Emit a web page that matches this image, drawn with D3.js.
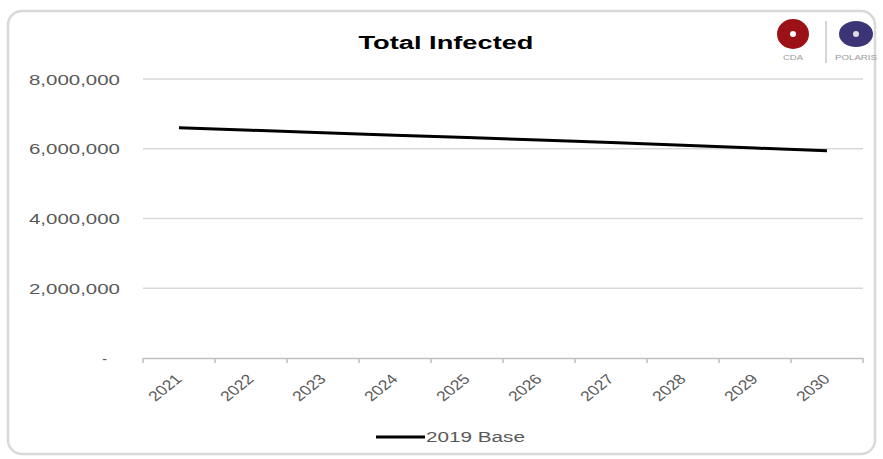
<!DOCTYPE html>
<html>
<head>
<meta charset="utf-8">
<script src="https://cdn.jsdelivr.net/npm/d3@7"></script>
<style>
  html, body { margin: 0; padding: 0; background: #fff; }
  svg { display: block; font-family: Arial, "Liberation Sans", sans-serif; }
</style>
</head>
<body>
<svg id="chart" width="883" height="459"></svg>
<script>
// Total infected, 2019 base projection
const years = ["2021", "2022", "2023", "2024", "2025", "2026", "2027", "2028", "2029", "2030"];
const baseValues = [6600000, 6530000, 6460000, 6390000, 6320000, 6250000, 6180000, 6100000, 6020000, 5940000];
const yTicks = [0, 2000000, 4000000, 6000000, 8000000];
const seriesName = "2019 Base";
const chartTitle = "Total Infected";

const svg = d3.select("#chart");
const W = 883, H = 459;

// Chart frame
svg.append("rect")
  .attr("x", 8).attr("y", 11)
  .attr("width", W - 16).attr("height", H - 16)
  .attr("rx", 14)
  .attr("fill", "#fff")
  .attr("stroke", "#d9d9d9")
  .attr("stroke-width", 2.5);

const plot = { left: 143, right: 863, top: 79, bottom: 358 };

const x = d3.scaleBand().domain(years).range([plot.left, plot.right]);
const y = d3.scaleLinear().domain([0, 8000000]).range([plot.bottom, plot.top]);

// Horizontal gridlines
svg.append("g")
  .selectAll("line")
  .data(yTicks.filter(d => d > 0))
  .join("line")
  .attr("x1", plot.left).attr("x2", plot.right)
  .attr("y1", d => y(d)).attr("y2", d => y(d))
  .attr("stroke", "#d9d9d9")
  .attr("stroke-width", 1.5);

// Y axis labels (zero shown as an accounting dash)
const fmt = d3.format(",");
const yAxis = svg.append("g")
  .attr("transform", `translate(${plot.left},0)`)
  .call(d3.axisLeft(y).tickValues(yTicks).tickSize(0).tickPadding(23)
    .tickFormat(d => d === 0 ? "-" : fmt(d)));
yAxis.select(".domain").remove();
yAxis.selectAll("text")
  .attr("fill", "#595959")
  .style("font-size", "14px")
  .attr("dy", "0.36em")
  .each(function(d) {
    const t = d3.select(this);
    if (d === 0) {
      t.attr("x", -36);
    } else {
      t.attr("textLength", 91).attr("lengthAdjust", "spacingAndGlyphs");
    }
  });

// X axis
const xAxis = svg.append("g")
  .attr("transform", `translate(0,${plot.bottom})`)
  .call(d3.axisBottom(x).tickSizeOuter(0).tickSizeInner(0).tickPadding(0));
xAxis.select(".domain")
  .attr("stroke", "#bfbfbf").attr("stroke-width", 1.5);
xAxis.selectAll(".tick line").remove();
// Tick marks on category boundaries
const bounds = years.map(d => x(d)).concat([plot.right]);
xAxis.append("g").selectAll("line")
  .data(bounds)
  .join("line")
  .attr("x1", d => d).attr("x2", d => d)
  .attr("y1", 0).attr("y2", 5)
  .attr("stroke", "#bfbfbf").attr("stroke-width", 1.5);
xAxis.selectAll(".tick text")
  .attr("fill", "#595959")
  .style("font-size", "14px")
  .attr("text-anchor", "end")
  .attr("y", 0)
  .attr("dy", "0")
  .attr("transform", "translate(4,22) scale(1.25,1) rotate(-45)");

// Series line
const line = d3.line()
  .x((d, i) => x(years[i]) + x.bandwidth() / 2)
  .y(d => y(d));
svg.append("path")
  .datum(baseValues)
  .attr("d", line)
  .attr("fill", "none")
  .attr("stroke", "#000")
  .attr("stroke-width", 3);

// Title
svg.append("text")
  .attr("x", 446).attr("y", 49)
  .attr("text-anchor", "middle")
  .attr("fill", "#000")
  .style("font-size", "18px")
  .style("font-weight", "bold")
  .attr("textLength", 175)
  .attr("lengthAdjust", "spacingAndGlyphs")
  .text(chartTitle);

// Legend
svg.append("line")
  .attr("x1", 376).attr("x2", 425)
  .attr("y1", 437).attr("y2", 437)
  .attr("stroke", "#000").attr("stroke-width", 3);
svg.append("text")
  .attr("x", 426).attr("y", 442)
  .attr("fill", "#595959")
  .style("font-size", "14px")
  .attr("textLength", 99)
  .attr("lengthAdjust", "spacingAndGlyphs")
  .text(seriesName);

// Organisation marks, top right
const logos = svg.append("g");
logos.append("ellipse").attr("cx", 793).attr("cy", 34).attr("rx", 16).attr("ry", 15).attr("fill", "#9b1116");
logos.append("circle").attr("cx", 793).attr("cy", 34).attr("r", 3).attr("fill", "#fff");
logos.append("text").attr("x", 793).attr("y", 60).attr("text-anchor", "middle")
  .attr("fill", "#9a9a9a").style("font-size", "7px")
  .attr("textLength", 20).attr("lengthAdjust", "spacingAndGlyphs").text("CDA");
logos.append("line").attr("x1", 826).attr("x2", 826).attr("y1", 21).attr("y2", 63)
  .attr("stroke", "#c8c8c8").attr("stroke-width", 1.5);
logos.append("ellipse").attr("cx", 856).attr("cy", 34).attr("rx", 17).attr("ry", 13).attr("fill", "#3b3577");
logos.append("circle").attr("cx", 856).attr("cy", 34).attr("r", 3).attr("fill", "#ddd");
logos.append("text").attr("x", 856).attr("y", 60).attr("text-anchor", "middle")
  .attr("fill", "#9a9a9a").style("font-size", "7px")
  .attr("textLength", 42).attr("lengthAdjust", "spacingAndGlyphs").text("POLARIS");
</script>
</body>
</html>
